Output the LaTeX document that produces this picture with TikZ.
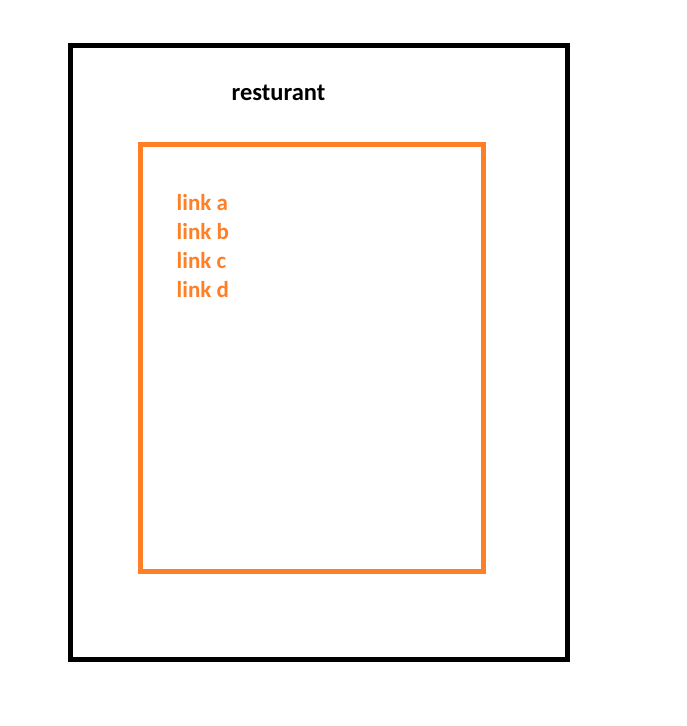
\documentclass[tikz,border=0pt]{standalone}
\usepackage{fontspec}
\setmainfont{Carlito}
\usetikzlibrary{positioning}
\definecolor{LinkClr}{HTML}{FF7F27}

\tikzset{
  box/.style={draw,line width=4.6pt,minimum width=#1,inner sep=0pt,outer sep=0pt},
  label text/.style={inner sep=0pt,anchor=base west,font=\fontsize{23}{28}\selectfont\bfseries},
}

\begin{document}
\begin{tikzpicture}[x=1pt,y=-1pt]
\useasboundingbox (0,0) rectangle (686,726);

% the two frames
\node[box=497pt,minimum height=614.5pt,draw=black] (outer) at (319,352.5) {};
\node[box=343pt,minimum height=427pt,draw=LinkClr] (inner) at (312,358) {};

% heading
\node[label text,anchor=base,text=black,font=\fontsize{24.5}{29}\selectfont\bfseries] (title) at (278.5,100.5) {resturant};

% list of links
\foreach \l [count=\i from 0] in {a,b,c,d}
  \node[label text,text=LinkClr] (link-\l) at (176.5,210+29*\i) {link \l};

\end{tikzpicture}
\end{document}
